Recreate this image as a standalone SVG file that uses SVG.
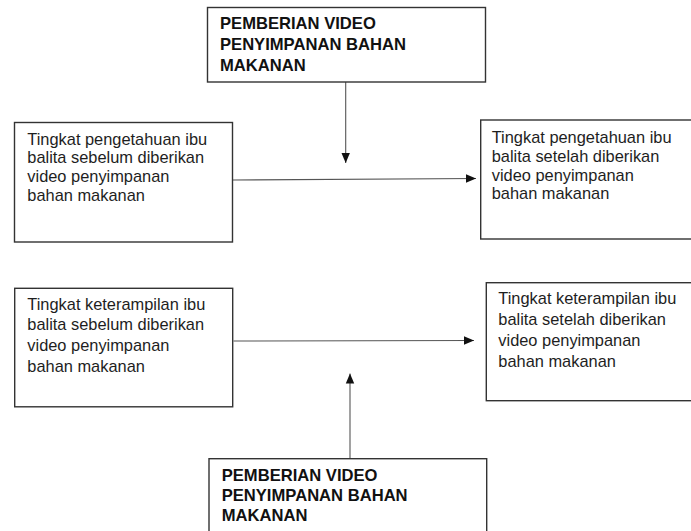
<svg xmlns="http://www.w3.org/2000/svg" width="691" height="531" viewBox="0 0 691 531">
  <defs>
    <marker id="arrow" markerUnits="userSpaceOnUse" markerWidth="10" markerHeight="10" viewBox="0 0 10 10" refX="10" refY="5" orient="auto">
      <path d="M0,0.8 L10,5 L0,9.2 Z" fill="#111"/>
    </marker>
    <style>
      .box { fill: #ffffff; stroke: #333333; stroke-width: 1.4; }
      .conn { fill: none; stroke: #555555; stroke-width: 1.1; marker-end: url(#arrow); }
      .t { font-family: "Liberation Sans", Arial, sans-serif; font-size: 16.4px; fill: #1e1e1e; }
      .b { font-family: "Liberation Sans", Arial, sans-serif; font-size: 16.6px; font-weight: bold; fill: #111111; }
    </style>
  </defs>
  <rect width="691" height="531" fill="#ffffff"/>

  <g id="connectors">
    <line class="conn" x1="345.7" y1="78" x2="345.7" y2="163"/>
    <line class="conn" x1="233" y1="180" x2="476" y2="178.5"/>
    <line class="conn" x1="233.5" y1="341" x2="474" y2="340.5"/>
    <line class="conn" x1="350" y1="458.5" x2="350" y2="373.5"/>
  </g>

  <g id="intervention-top">
    <rect class="box" x="207.5" y="7.5" width="278" height="74.5"/>
    <text class="b" x="220" y="29">PEMBERIAN VIDEO</text>
    <text class="b" x="220" y="50">PENYIMPANAN BAHAN</text>
    <text class="b" x="220" y="71">MAKANAN</text>
  </g>

  <g id="knowledge-before">
    <rect class="box" x="14.5" y="122.5" width="218" height="119.5"/>
    <text class="t" x="27.3" y="144.5">Tingkat pengetahuan ibu</text>
    <text class="t" x="27.3" y="163.3">balita sebelum diberikan</text>
    <text class="t" x="27.3" y="182.1">video penyimpanan</text>
    <text class="t" x="27.3" y="200.9">bahan makanan</text>
  </g>

  <g id="knowledge-after">
    <rect class="box" x="480.7" y="120" width="215" height="119"/>
    <text class="t" x="491.7" y="142.7">Tingkat pengetahuan ibu</text>
    <text class="t" x="491.7" y="161.6">balita setelah diberikan</text>
    <text class="t" x="491.7" y="180.5">video penyimpanan</text>
    <text class="t" x="491.7" y="199.4">bahan makanan</text>
  </g>

  <g id="skill-before">
    <rect class="box" x="14.7" y="288.3" width="218" height="118.5"/>
    <text class="t" x="27.3" y="309.6">Tingkat keterampilan ibu</text>
    <text class="t" x="27.3" y="330.4">balita sebelum diberikan</text>
    <text class="t" x="27.3" y="351.2">video penyimpanan</text>
    <text class="t" x="27.3" y="372">bahan makanan</text>
  </g>

  <g id="skill-after">
    <rect class="box" x="486.3" y="282.7" width="210" height="118"/>
    <text class="t" x="498.3" y="304.4">Tingkat keterampilan ibu</text>
    <text class="t" x="498.3" y="325.2">balita setelah diberikan</text>
    <text class="t" x="498.3" y="346">video penyimpanan</text>
    <text class="t" x="498.3" y="366.8">bahan makanan</text>
  </g>

  <g id="intervention-bottom">
    <rect class="box" x="209" y="458.7" width="277.7" height="80"/>
    <text class="b" x="221.7" y="481">PEMBERIAN VIDEO</text>
    <text class="b" x="221.7" y="501">PENYIMPANAN BAHAN</text>
    <text class="b" x="221.7" y="521">MAKANAN</text>
  </g>
</svg>
